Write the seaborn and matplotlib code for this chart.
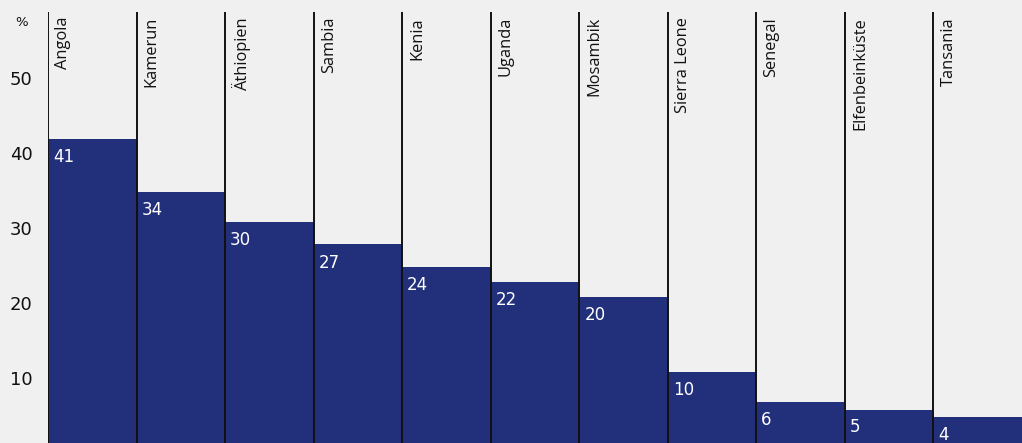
import matplotlib
matplotlib.use("Agg")
import matplotlib.pyplot as plt
import matplotlib.transforms as mtransforms
import seaborn as sns
import pandas as pd

countries = ["Angola", "Kamerun", "Äthiopien", "Sambia", "Kenia", "Uganda",
             "Mosambik", "Sierra Leone", "Senegal", "Elfenbeinküste", "Tansania"]
values = [41, 34, 30, 27, 24, 22, 20, 10, 6, 5, 4]
yticks = [10, 20, 30, 40, 50]
unit_label = "%"

BG = "#f0f0f0"
BAR = "#22307b"

sns.set_theme(style="white")
plt.rcParams["font.family"] = ["DejaVu Sans"]

W, H = 1022, 443
fig = plt.figure(figsize=(W / 100, H / 100), dpi=100)
fig.patch.set_facecolor(BG)
ax = fig.add_axes([48 / W, -4 / H, 974 / W, 435 / H])
ax.set_facecolor(BG)

df = pd.DataFrame({"land": countries, "wert": values})
sns.barplot(data=df, x="land", y="wert", color=BAR, width=1.0, ax=ax,
            saturation=1, edgecolor="none", linewidth=0)

n = len(countries)
ax.set_xlim(-0.5, n - 0.5)
ax.set_ylim(0, 58)

for s in ax.spines.values():
    s.set_visible(False)
ax.set_xlabel("")
ax.set_ylabel("")
ax.set_xticks([])

# separator lines
for i in range(n):
    ax.axvline(i - 0.5, ymin=0, ymax=1, color="#111111", lw=1.4, zorder=3)

# country labels
lab_off = mtransforms.ScaledTranslation(7 / 100, -5 / 100, fig.dpi_scale_trans)
for i, c in enumerate(countries):
    ax.text(i - 0.5, 58, c, rotation=90, ha="left", va="top",
            fontsize=11.8, color="#111111", family=["Open Sans", "DejaVu Sans"],
            transform=ax.transData + lab_off, zorder=4)

# value labels
val_off = mtransforms.ScaledTranslation(5 / 100, -9 / 100, fig.dpi_scale_trans)
for i, v in enumerate(values):
    ax.text(i - 0.5, v, str(v), ha="left", va="top", fontsize=12,
            color="white", transform=ax.transData + val_off, zorder=4)

# y tick labels
ax.set_yticks(yticks)
ax.set_yticklabels([str(t) for t in yticks], fontsize=13, color="#111111")
ax.tick_params(axis="y", length=0, pad=0)
tick_off = mtransforms.ScaledTranslation(-27 / 100, -6 / 100, fig.dpi_scale_trans)
for lbl in ax.get_yticklabels():
    lbl.set_horizontalalignment("center")
    lbl.set_transform(lbl.get_transform() + tick_off)

fig.text(22 / W, 1 - 23 / H, unit_label, ha="center", va="center",
         fontsize=9.5, color="#111111")

fig.savefig("out.png", dpi=100, facecolor=BG)
